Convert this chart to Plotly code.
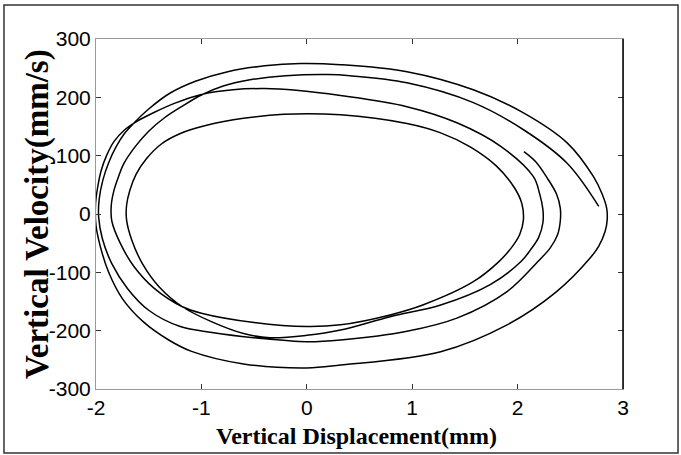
import plotly.graph_objects as go

# Phase trajectory (x: mm, y: mm/s)
seg1_x = [2.06, 2.17, 2.28, 2.37, 2.405]
seg1_y = [107, 90, 62, 34, 10]

seg2_x = [2.405, 2.38, 2.31, 2.20, 1.90, 1.43, 0.95, 0.32, 0.0, -0.45, -0.90, -1.20, -1.50, -1.70, -1.85, -1.94, -1.975]
seg2_y = [-12, -35, -58, -80, -133, -178, -201, -216, -219, -213, -203, -193, -165, -128, -85, -42, -5]

seg3_x = [-1.97, -1.935, -1.88, -1.81, -1.73, -1.64, -1.50, -1.30, -1.05, -0.75, -0.40, -0.06, 0.32, 0.95, 1.58, 2.06, 2.47, 2.72, 2.80, 2.845]
seg3_y = [25, 58, 88, 115, 138, 156, 180, 207, 228, 244, 254, 258, 256, 244, 213, 173, 122, 64, 35, 10]

seg4_x = [2.85, 2.83, 2.77, 2.69, 2.37, 1.90, 1.27, 0.32, 0.0, -0.60, -1.10, -1.31, -1.55, -1.75, -1.88, -1.96, -2.0]
seg4_y = [-10, -30, -55, -75, -133, -190, -236, -259, -264, -257, -235, -216, -185, -145, -100, -55, -20]

seg5_x = [-2.005, -1.985, -1.95, -1.90, -1.83, -1.73, -1.60, -1.45, -1.25, -1.0, -0.70, -0.40, -0.10, 0.32, 0.95, 1.43, 1.84, 2.15, 2.21, 2.24]
seg5_y = [15, 45, 75, 100, 124, 144, 160, 174, 190, 205, 213, 215, 212, 203, 184, 156, 116, 64, 34, 8]

seg6_x = [2.24, 2.20, 2.12, 2.03, 1.74, 1.27, 0.79, 0.32, 0.0, -0.35, -0.60, -0.90, -1.18, -1.40, -1.56, -1.66, -1.71]
seg6_y = [-15, -40, -62, -82, -121, -156, -176, -199, -208, -212, -205, -185, -159, -125, -85, -45, -10]

seg7_x = [-1.71, -1.68, -1.62, -1.52, -1.38, -1.20, -0.95, -0.60, -0.22, 0.32, 0.95, 1.27, 1.55, 1.80, 1.97, 2.04]
seg7_y = [15, 40, 68, 95, 120, 138, 152, 164, 171, 170, 155, 139, 115, 82, 45, 18]

seg8_x = [2.055, 2.02, 1.94, 1.82, 1.58, 1.10, 0.79, 0.32, 0.0, -0.50, -1.00, -1.18, -1.45, -1.64, -1.77, -1.85]
seg8_y = [-10, -35, -58, -82, -116, -156, -173, -190, -193, -186, -170, -159, -127, -90, -50, -12]

seg9_x = [-1.855, -1.83, -1.79, -1.74, -1.63, -1.50, -1.35, -1.18, -1.00, -0.80, -0.54, -0.20, 0.20, 0.41, 0.95, 1.58, 2.06, 2.47, 2.77]
seg9_y = [15, 40, 62, 85, 115, 142, 165, 185, 204, 219, 230, 237, 239, 237, 225, 191, 144, 87, 13]

x_ticks = [-2, -1, 0, 1, 2, 3]
x_tick_text = ["-2", "-1", "0", "1", "2", "3"]
y_ticks = [-300, -200, -100, 0, 100, 200, 300]
y_tick_text = ["-300", "-200", "-100", "0", "100", "200", "300"]

xs = seg1_x + seg2_x + seg3_x + seg4_x + seg5_x + seg6_x + seg7_x + seg8_x + seg9_x
ys = seg1_y + seg2_y + seg3_y + seg4_y + seg5_y + seg6_y + seg7_y + seg8_y + seg9_y

fig = go.Figure()
fig.add_trace(go.Scatter(x=xs, y=ys, mode="lines",
                         line=dict(color="black", width=1.5, shape="spline", smoothing=1.0),
                         hoverinfo="skip"))

tick_font = dict(family="Liberation Sans, Arial, sans-serif", size=21, color="black")
serif_bold = "Liberation Serif, Times New Roman, serif"

fig.update_layout(
    width=681, height=455,
    margin=dict(l=96, r=58, t=39, b=66),
    plot_bgcolor="white", paper_bgcolor="white",
    showlegend=False,
    xaxis=dict(range=[-2, 3], tickvals=x_ticks, ticktext=x_tick_text, ticks="inside", ticklen=5,
               tickcolor="#333", showline=True, linecolor="#999", linewidth=1, mirror="allticks",
               showgrid=False, zeroline=False, tickfont=tick_font, automargin=False),
    yaxis=dict(range=[-300, 300], tickvals=y_ticks, ticktext=y_tick_text, ticks="inside", ticklen=5,
               tickcolor="#333", showline=True, linecolor="#999", linewidth=1, mirror="allticks",
               showgrid=False, zeroline=False, tickfont=tick_font, automargin=False),
    annotations=[
        dict(text="Vertical Displacement(mm)", xref="paper", yref="paper", x=0.495, y=-0.134,
             xanchor="center", yanchor="middle", showarrow=False,
             font=dict(family=serif_bold, size=24, color="black", weight="bold")),
        dict(text="Vertical Velocity(mm/s)", xref="paper", yref="paper", x=-0.112, y=0.5,
             xanchor="center", yanchor="middle", showarrow=False, textangle=-90,
             font=dict(family=serif_bold, size=33, color="black", weight="bold")),
    ],
    shapes=[
        dict(type="line", xref="paper", yref="paper", x0=1, x1=1, y0=0, y1=1,
             line=dict(color="black", width=1.5)),
        dict(type="rect", xref="paper", yref="paper", x0=-0.1746, x1=1.1044, y0=-0.1829, y1=1.0971,
             line=dict(color="#333", width=1.5)),
    ],
)

fig.write_html("out.html",
               config={"displayModeBar": False},
               post_script="document.body.style.margin='0px';document.body.style.overflow='hidden';")
